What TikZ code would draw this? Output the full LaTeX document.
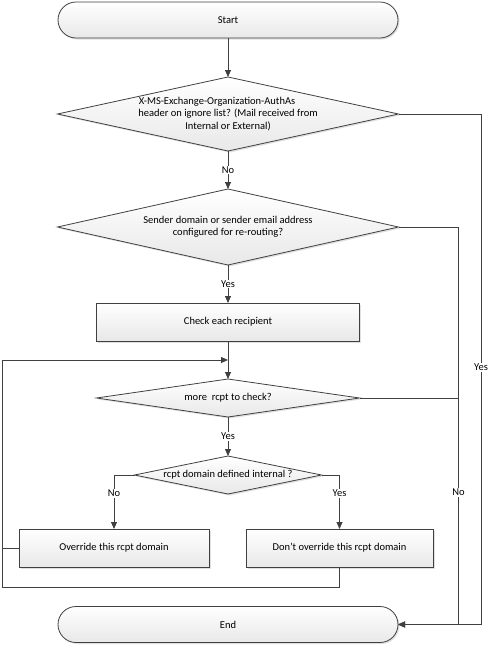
\documentclass[tikz,border=0pt]{standalone}
\usepackage{fontspec}
\setmainfont{Carlito}
\usetikzlibrary{shapes.geometric, positioning, arrows.meta, shadows, calc}

\definecolor{linegray}{HTML}{404040}
\definecolor{fillgray}{HTML}{E8E8E8}

\tikzset{
    base/.style={draw=linegray, line width=0.8pt, top color=white, bottom color=fillgray,
        drop shadow={shadow xshift=1.5pt, shadow yshift=-1.5pt, fill=black, opacity=0.12},
        font=\fontsize{10.5}{12.5}\selectfont, align=center, outer sep=0pt},
    terminal/.style={base, rounded corners=18pt, minimum width=340pt, minimum height=36pt},
    decision/.style={base, diamond, inner sep=-10pt},
    process/.style={base, rectangle, minimum height=38pt},
    flow/.style={draw=linegray, line width=0.8pt, -{Triangle[length=7pt,width=6pt]}},
    link/.style={draw=linegray, line width=0.8pt},
    lbl/.style={font=\fontsize{10.5}{12}\selectfont, fill=white, inner sep=1pt}
}

\begin{document}
\begin{tikzpicture}[x=1pt, y=-1pt]
        \useasboundingbox (0,0) rectangle (489,646);
        \node[terminal] (start) at (228,20) {Start};
        \node[decision, below=39pt of start, minimum width=341pt, minimum height=74pt, aspect=4.6] (hdr)
            {\mbox{X-MS-Exchange-Organization-AuthAs\hspace{22pt}}\\header on ignore list? (Mail received from\\Internal or External)};
        \node[decision, below=38pt of hdr, minimum width=341pt, minimum height=76pt, aspect=4.5] (sender)
            {Sender domain or sender email address\\configured for re-routing?};
        \node[process, below=38pt of sender, minimum width=263pt] (check) {Check each recipient};
        \node[decision, below=38pt of check, minimum width=263pt, minimum height=38pt, aspect=6.9] (more) {more \ rcpt to check?};
        \node[decision, below=39pt of more, minimum width=187pt, minimum height=38pt, aspect=4.9] (internal) {rcpt domain defined internal ?};
        \node[process, minimum width=190pt] (override) at (114,548) {Override this rcpt domain};
        \node[process, minimum width=187pt] (keep) at (339.5,548) {Don’t override this rcpt domain};
        \node[terminal] (end) at (228,624.5) {End};

        \coordinate (loopin) at ($(check.south)!0.5!(more.north)$);
        \coordinate (loopcorner) at ([xshift=-17pt]override.west);
        \coordinate (norail) at ([xshift=60pt]sender.east);

        \draw[flow] (start) -- (hdr);
        \draw[flow] (hdr) -- node[lbl] {No} (sender);
        \draw[flow] (sender) -- node[lbl] {Yes} (check);
        \draw[flow] (check) -- (more);
        \draw[flow] (more) -- node[lbl] {Yes} (internal);
        \draw[flow] (internal.west) -| node[lbl, pos=0.67] {No} (override.north);
        \draw[flow] (internal.east) -| node[lbl, pos=0.67] {Yes} (keep.north);
        \draw[flow] (override.west) -- (loopcorner) |- (loopin);
        \draw[link] (keep.south) -- ++(0,20) -| (loopcorner);
        \draw[flow] (hdr.east) -- ++(82.5pt,0) |- node[lbl, pos=0.248] {Yes} (end.east);
        \draw[flow] (sender.east) -- (norail) |- node[lbl, pos=0.334] {No} (end.east);
        \draw[link] (more.east) -- (more.east -| norail);
\end{tikzpicture}
\end{document}
